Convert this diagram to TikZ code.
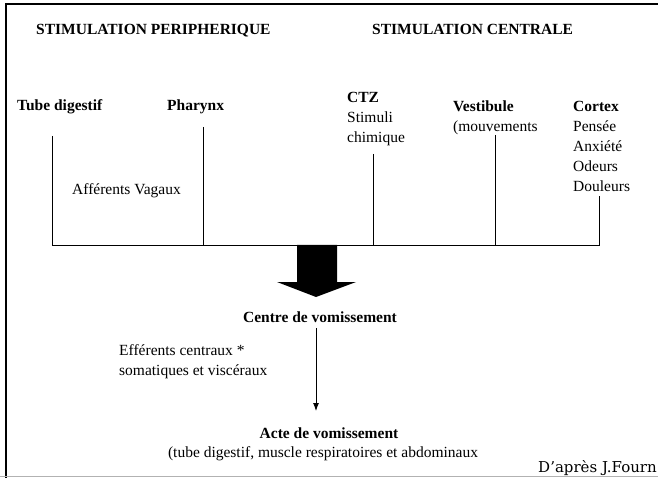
\documentclass[tikz,border=0pt]{standalone}
\usepackage{fontspec}
\setmainfont{Liberation Serif}
\newfontfamily\notefont{DejaVu Serif}
\usetikzlibrary{arrows.meta}

\begin{document}
\begin{tikzpicture}[x=1pt, y=-1pt, >=Latex,
  every node/.style={inner sep=0pt, font=\fontsize{15.5}{18}\selectfont},
  head/.style={font=\fontsize{15.5}{18}\selectfont\bfseries},
  lbl/.style={anchor=base west},
  wire/.style={draw=black, line width=0.9pt},
  frame/.style={draw=black, line width=2.6pt}]
\useasboundingbox (0,0) rectangle (658,478);
% page frame
\draw[frame] (6,478) -- (6,4) -- (658,4);
\draw[black!30, line width=1.5pt] (0,476.5) -- (658,476.5);

% headings
\node[head,lbl] (peri) at (36,35) {STIMULATION PERIPHERIQUE};
\node[head,lbl] (centr) at (372,35) {STIMULATION CENTRALE};

% sources of stimulation
\node[head,lbl] (tube) at (17,111) {Tube digestif};
\node[head,lbl] (pharynx) at (167,111) {Pharynx};
\node[head,lbl] (ctz) at (347,103) {CTZ};
\node[lbl] (stimuli) at (347,123) {Stimuli};
\node[lbl] (chimique) at (347,143) {chimique};
\node[head,lbl] (vestib) at (453,112) {Vestibule};
\node[lbl] (mouv) at (453,132) {(mouvements};
\node[head,lbl] (cortex) at (573,112) {Cortex};
\foreach \w [count=\i] in {Pensée,Anxiété,Odeurs,Douleurs}
  \node[lbl] (cx\i) at (573,112+20*\i) {\w};
\node[lbl] (vagaux) at (72,195) {Afférents Vagaux};

% collecting lines
\foreach \n/\x/\y in {1/52/136, 2/203/127, 3/373/154, 4/495/135, 5/599/196} {
  \coordinate (t\n) at (\x,\y);
  \coordinate (b\n) at (\x,245);
}
\draw[wire] (t1) -- (b1) -- (b5) -- (t5);
\foreach \n in {2,3,4} \draw[wire] (t\n) -- (b\n);

% big arrow
\coordinate (tip) at (316,297);
\fill (297,245) -- (337,245) -- (337,282) -- (356,282) -- (tip)
  -- (277,282) -- (297,282) -- cycle;

% vomiting centre and act
\node[head,anchor=base] (centre) at (320,322) {Centre de vomissement};
\node[lbl] (eff) at (119,355) {Efférents centraux *};
\node[lbl] (soma) at (119,375) {somatiques et viscéraux};
\coordinate (a1) at (316,328);
\coordinate (a2) at (316,411);
\draw[wire,-{Latex[length=8pt,width=6pt]}] (a1) -- (a2);
\node[head,anchor=base] (acte) at (329,438) {Acte de vomissement};
\node[anchor=base] (actedet) at (323,457) {(tube digestif, muscle respiratoires et abdominaux};
\node[anchor=base east,font=\fontsize{15}{18}\notefont] (source) at (657,472) {D’après J.Fourn};
\end{tikzpicture}
\end{document}
